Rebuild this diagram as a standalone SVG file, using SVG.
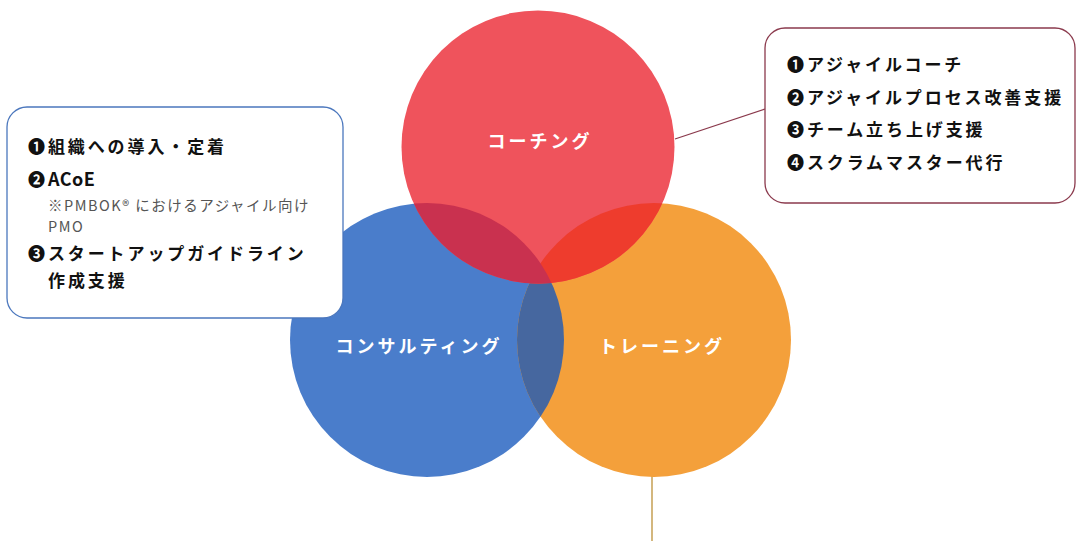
<svg xmlns="http://www.w3.org/2000/svg" width="1077" height="541" viewBox="0 0 1077 541">
<style>
.jp{font-family:"Noto Sans CJK JP","Noto Sans",sans-serif;}
.item{font-size:17px;font-weight:bold;fill:#111111;letter-spacing:2.9px;}
.latin{font-size:18px;letter-spacing:0.5px;}
.note{font-size:14.5px;font-weight:normal;fill:#555;letter-spacing:1.5px;}
.lbl{font-size:18px;font-weight:bold;fill:#ffffff;letter-spacing:3px;text-anchor:middle;}
.box{fill:#ffffff;stroke-width:1.3;}
</style>
<defs>
<clipPath id="cRed"><circle cx="538" cy="147" r="136.5"/></clipPath>
<clipPath id="cBlue"><circle cx="427" cy="340" r="137"/></clipPath>
<clipPath id="cOrange"><circle cx="654" cy="340" r="137"/></clipPath>
</defs>
<rect width="1077" height="541" fill="#ffffff"/>

<g id="connectors" fill="none">
<line x1="675" y1="139" x2="765" y2="109" stroke="#8b3a4d" stroke-width="1.3"/>
<line x1="652" y1="476" x2="652" y2="541" stroke="#c9a55e" stroke-width="1.6"/>
</g>

<g id="node-consulting">
<circle cx="427" cy="340" r="137" fill="#4a7dcb"/>
</g>
<g id="node-training">
<circle cx="654" cy="340" r="137" fill="#f4a03b"/>
<circle cx="427" cy="340" r="137" fill="#46679f" clip-path="url(#cOrange)"/>
</g>
<g id="node-coaching">
<circle cx="538" cy="147" r="136.5" fill="#ef535c"/>
<circle cx="654" cy="340" r="137" fill="#ee3c2d" clip-path="url(#cRed)"/>
<circle cx="427" cy="340" r="137" fill="#c9314f" clip-path="url(#cRed)"/>
<text class="jp lbl" x="540" y="148">コーチング</text>
</g>
<text class="jp lbl" x="419" y="353">コンサルティング</text>
<text class="jp lbl" x="662" y="353">トレーニング</text>

<g id="box-consulting">
<rect class="box" x="7" y="107" width="336" height="211" rx="20" stroke="#4b77bd"/>
<text class="jp item" x="28" y="153">❶組織への導入・定着</text>
<text class="jp item" x="28" y="186">❷<tspan class="latin">ACoE</tspan></text>
<text class="jp note" x="48" y="211">※PMBOK® におけるアジャイル向け</text>
<text class="jp note" x="48" y="232">PMO</text>
<text class="jp item" x="28" y="260">❸スタートアップガイドライン</text>
<text class="jp item" x="48" y="287">作成支援</text>
</g>

<g id="box-coaching">
<rect class="box" x="765" y="28" width="310" height="175" rx="20" stroke="#8b3a4d"/>
<text class="jp item" x="787" y="71">❶アジャイルコーチ</text>
<text class="jp item" x="787" y="104">❷アジャイルプロセス改善支援</text>
<text class="jp item" x="787" y="136">❸チーム立ち上げ支援</text>
<text class="jp item" x="787" y="169">❹スクラムマスター代行</text>
</g>
</svg>
